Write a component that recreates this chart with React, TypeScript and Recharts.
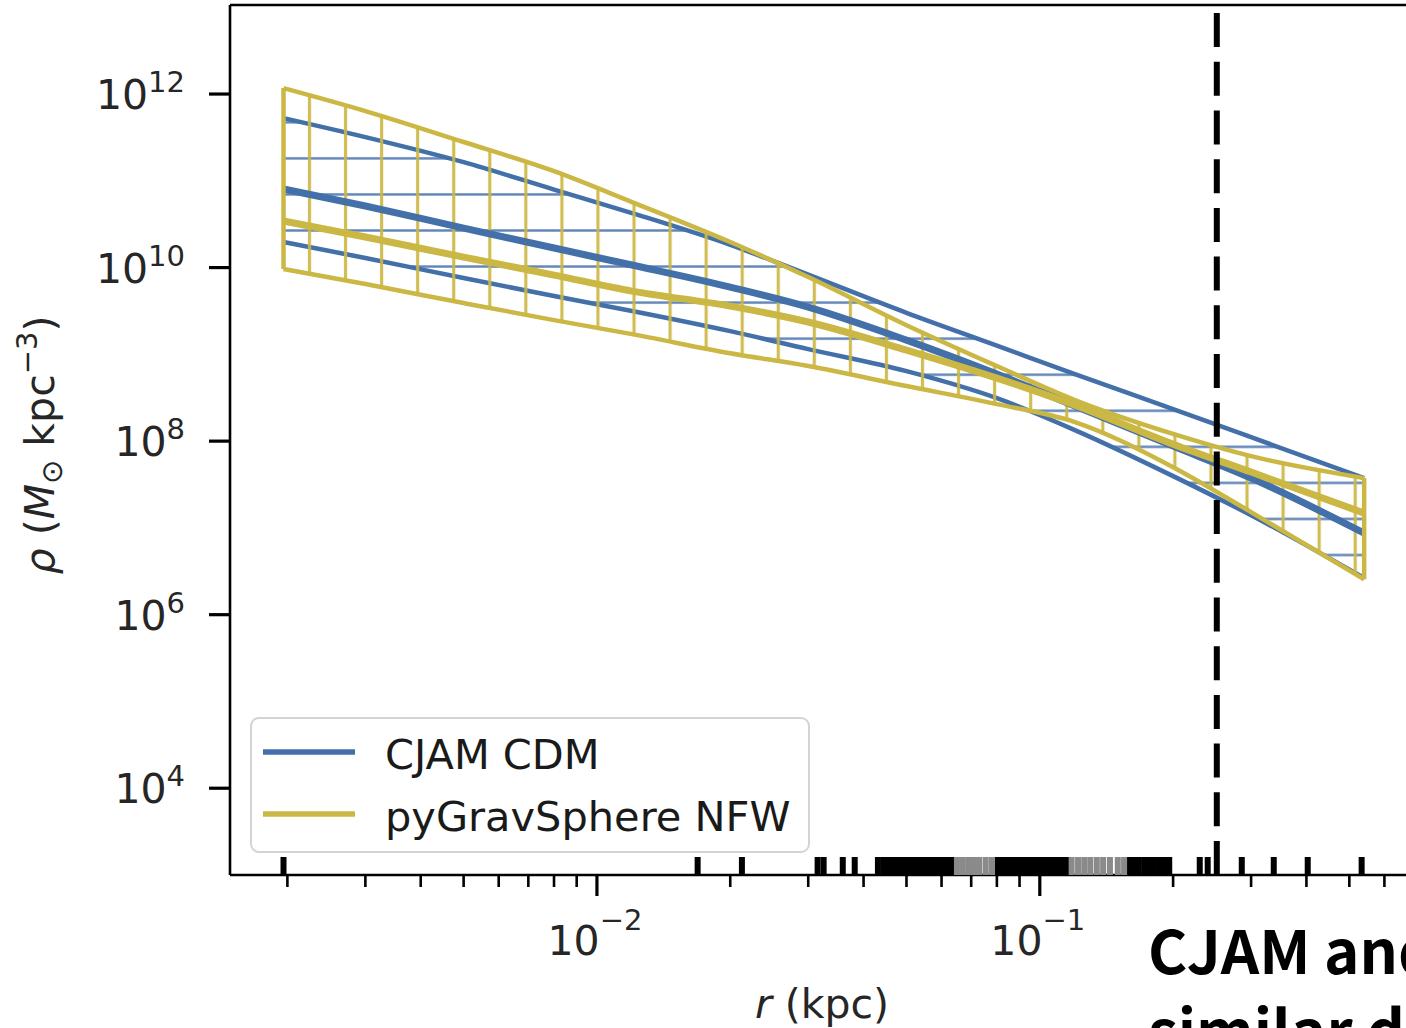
import React from 'react';
import { ComposedChart, Area, Line, XAxis, YAxis, ReferenceLine, Scatter, Legend } from 'recharts';

// ---- data ----
const radii = [0.00196, 0.003, 0.005, 0.008, 0.012, 0.02, 0.03, 0.05, 0.08, 0.12, 0.2, 0.3, 0.54];
const cjamLow = [1.97e10, 1.29e10, 7.57e9, 4.7e9, 3.16e9, 1.85e9, 1.15e9, 6.41e8, 3.13e8, 1.34e8, 3.95e7, 1.4e7, 2.64e6];
const cjamMedian = [8.04e10, 5.12e10, 2.85e10, 1.68e10, 1.07e10, 5.96e9, 3.51e9, 1.46e9, 5.92e8, 2.54e8, 8.77e7, 3.75e7, 8.71e6];
const cjamHigh = [5.28e11, 3.19e11, 1.64e11, 7.93e10, 4.25e10, 1.83e10, 8.28e9, 3.01e9, 1.26e9, 5.92e8, 2.34e8, 1.11e8, 3.75e7];
const gsLow = [9.62e9, 6.46e9, 3.9e9, 2.48e9, 1.71e9, 1.03e9, 7.33e8, 4.31e8, 2.67e8, 1.66e8, 5.01e7, 1.52e7, 2.56e6];
const gsMedian = [3.44e10, 2.25e10, 1.32e10, 8.2e9, 5.36e9, 3.6e9, 2.36e9, 1.12e9, 5.32e8, 2.6e8, 9.23e7, 4.4e7, 1.48e7];
const gsHigh = [1.17e12, 6.37e11, 2.8e11, 1.29e11, 5.69e10, 1.97e10, 7.78e9, 2.17e9, 7.33e8, 2.97e8, 1.21e8, 6.71e7, 3.75e7];

// stellar radii rug (kpc)
const rugDark = [
  0.00196, 0.01688, 0.02125, 0.0315, 0.0325, 0.0359, 0.0382,
  0.0431, 0.0444, 0.0455, 0.0467, 0.0479, 0.0491, 0.0504, 0.0517, 0.053, 0.0544, 0.0558, 0.0572, 0.0587, 0.0602, 0.0618, 0.0634,
  0.08, 0.0822, 0.0845, 0.0868, 0.0892, 0.0916, 0.094, 0.0965, 0.099, 0.1015, 0.104, 0.1068, 0.1095, 0.1122, 0.115,
  0.159, 0.163, 0.167, 0.172, 0.1765, 0.181, 0.186, 0.191, 0.196,
  0.2297, 0.2394, 0.2858, 0.3375, 0.4027, 0.533,
];
const rugLight = [0.065, 0.067, 0.069, 0.071, 0.073, 0.0755, 0.078, 0.118, 0.122, 0.126, 0.13, 0.1345, 0.139, 0.144, 0.15, 0.155];

const halfLightRadius = 0.251;

const xTicks = [0.002, 0.003, 0.004, 0.005, 0.006, 0.007, 0.008, 0.009, 0.01, 0.02, 0.03, 0.04, 0.05, 0.06, 0.07, 0.08, 0.09, 0.1, 0.2, 0.3, 0.4, 0.5, 0.6, 0.7];
const yTicks = [1e4, 1e6, 1e8, 1e10, 1e12];

const seriesNames = ['CJAM CDM', 'pyGravSphere NFW'];
const slideLines = ['CJAM and', 'similar density'];

// ---- styling ----
const BLUE = '#4470aa';
const GOLD = '#cbb743';
const FONT = 'DejaVu Sans';
const X_DOMAIN = [0.001484, 0.7145];
const Y_DOMAIN = [1e3, 1.062e13];
const W = 1430;
const H = 1028;

const rows = radii.map((r, i) => ({
  r,
  cjamBand: [cjamLow[i], cjamHigh[i]],
  cjamMed: cjamMedian[i],
  gsBand: [gsLow[i], gsHigh[i]],
  gsMed: gsMedian[i],
}));
const rugDarkRows = rugDark.map((r) => ({ r, rug: Y_DOMAIN[0] }));
const rugLightRows = rugLight.map((r) => ({ r, rug: Y_DOMAIN[0] }));

const isMajor = (v: number) => Math.abs(Math.log10(v) - Math.round(Math.log10(v))) < 1e-6;
const expLabel = (v: number) => {
  const e = Math.round(Math.log10(v));
  return e < 0 ? '\u2212' + Math.abs(e) : String(e);
};

const XTick = (props: any) => {
  const { x, y, payload } = props;
  const v = payload.value;
  const major = isMajor(v);
  return (
    <g>
      <line x1={x} x2={x} y1={y} y2={y + (major ? 21 : 12)} stroke="#000" strokeWidth={major ? 3.2 : 2.6} />
      {major && (
        <text x={x - 2} y={y + 80} textAnchor="middle" fontFamily={FONT} fontSize={41} fill="#262626">
          <tspan>10</tspan>
          <tspan dy={-25} fontSize={29}>{expLabel(v)}</tspan>
        </text>
      )}
    </g>
  );
};

const YTick = (props: any) => {
  const { x, y, payload } = props;
  const v = payload.value;
  return (
    <g>
      <line x1={x - 21} x2={x} y1={y} y2={y} stroke="#000" strokeWidth={3.2} />
      <text x={x - 45} y={y + 15} textAnchor="end" fontFamily={FONT} fontSize={41} fill="#262626">
        <tspan>10</tspan>
        <tspan dy={-17} fontSize={29}>{expLabel(v)}</tspan>
      </text>
    </g>
  );
};

const RugMark = (props: any) => {
  const { cx, cy, fill } = props;
  return <rect x={cx - 3} y={cy - 18} width={6} height={18} fill={fill} />;
};

const XLabel = (props: any) => {
  const vb = props.viewBox;
  return (
    <text x={vb.x + vb.width / 2 - 2} y={vb.y + 143} textAnchor="middle" fontFamily={FONT} fontSize={41} fill="#262626">
      <tspan fontStyle="italic">r</tspan>
      <tspan> (kpc)</tspan>
    </text>
  );
};

const YLabel = (props: any) => {
  const vb = props.viewBox;
  const cx = vb.x + 54;
  const cy = vb.y + vb.height / 2 + 5;
  return (
    <text x={cx} y={cy} transform={`rotate(-90 ${cx} ${cy})`} textAnchor="middle" fontFamily={FONT} fontSize={41} fill="#262626">
      <tspan fontStyle="italic">{'\u03C1'}</tspan>
      <tspan> (</tspan>
      <tspan fontStyle="italic">M</tspan>
      <tspan dy={8} fontSize={29}>{'\u2299'}</tspan>
      <tspan dy={-8}> kpc</tspan>
      <tspan dy={-17} fontSize={29}>{'\u22123'}</tspan>
      <tspan dy={17}>)</tspan>
    </text>
  );
};

const legendColors = [BLUE, GOLD];
const LegendBox = () => (
  <div
    style={{
      width: 560,
      height: 136,
      boxSizing: 'border-box',
      border: '2.5px solid #d4d4d4',
      borderRadius: 9,
      background: 'rgba(255,255,255,0.85)',
      position: 'relative',
    }}
  >
    <svg width={555} height={131} style={{ position: 'absolute', left: 0, top: 0 }}>
      {seriesNames.map((name, i) => (
        <g key={name}>
          <line x1={11} x2={103} y1={33 + i * 62} y2={33 + i * 62} stroke={legendColors[i]} strokeWidth={5.5} />
          <text x={133} y={50 + i * 62} fontFamily={FONT} fontSize={41.5} fill="#1a1a1a">
            {name}
          </text>
        </g>
      ))}
    </svg>
  </div>
);

export default function App() {
  return (
    <div
      style={{
        position: 'absolute',
        left: 0,
        top: 0,
        width: 1406,
        height: 1028,
        overflow: 'hidden',
        background: '#fff',
      }}
    >
      <ComposedChart width={W} height={H} data={rows} margin={{ top: 5, right: 12, bottom: 93, left: 0 }}>
        <defs>
          <pattern id="hatchBlue" patternUnits="userSpaceOnUse" width={36.06} height={36.06}>
            <line x1={0} x2={36.06} y1={14.06} y2={14.06} stroke={BLUE} strokeWidth={2.4} strokeOpacity={0.85} />
          </pattern>
          <pattern id="hatchGold" patternUnits="userSpaceOnUse" width={36.06} height={36.06}>
            <line x1={21.0} x2={21.0} y1={0} y2={36.06} stroke={GOLD} strokeWidth={3.2} strokeOpacity={0.9} />
          </pattern>
        </defs>
        <XAxis
          dataKey="r"
          type="number"
          scale="log"
          domain={X_DOMAIN}
          allowDataOverflow
          ticks={xTicks}
          interval={0}
          tickSize={0}
          tickMargin={0}
          tickLine={false}
          tick={XTick}
          height={60}
          axisLine={{ stroke: '#000', strokeWidth: 2.6 }}
          label={{ content: XLabel }}
        />
        <YAxis
          type="number"
          scale="log"
          domain={Y_DOMAIN}
          allowDataOverflow
          ticks={yTicks}
          interval={0}
          tickSize={0}
          tickMargin={0}
          tickLine={false}
          tick={YTick}
          width={230}
          axisLine={{ stroke: '#000', strokeWidth: 2.6 }}
          label={{ content: YLabel }}
        />
        <Area
          type="monotoneX"
          dataKey="cjamBand"
          fill="url(#hatchBlue)"
          fillOpacity={1}
          stroke={BLUE}
          strokeWidth={4.5}
          dot={false}
          activeDot={false}
          isAnimationActive={false}
        />
        <Line type="monotoneX" dataKey="cjamMed" stroke={BLUE} strokeWidth={7} dot={false} activeDot={false} isAnimationActive={false} />
        <Area
          type="monotoneX"
          dataKey="gsBand"
          fill="url(#hatchGold)"
          fillOpacity={1}
          stroke={GOLD}
          strokeWidth={4.5}
          dot={false}
          activeDot={false}
          isAnimationActive={false}
        />
        <Line type="monotoneX" dataKey="gsMed" stroke={GOLD} strokeWidth={7} dot={false} activeDot={false} isAnimationActive={false} />
        <ReferenceLine
          segment={[
            { x: radii[0], y: gsLow[0] },
            { x: radii[0], y: gsHigh[0] },
          ]}
          stroke={GOLD}
          strokeWidth={4.5}
          ifOverflow="visible"
        />
        <ReferenceLine
          segment={[
            { x: radii[radii.length - 1], y: gsLow[gsLow.length - 1] },
            { x: radii[radii.length - 1], y: gsHigh[gsHigh.length - 1] },
          ]}
          stroke={GOLD}
          strokeWidth={4.5}
          ifOverflow="visible"
        />
        <Scatter data={rugDarkRows} dataKey="rug" fill="#000" shape={RugMark} isAnimationActive={false} />
        <Scatter data={rugLightRows} dataKey="rug" fill="#8a8a8a" shape={RugMark} isAnimationActive={false} />
        <ReferenceLine
          segment={[
            { x: halfLightRadius, y: Y_DOMAIN[0] },
            { x: halfLightRadius, y: Y_DOMAIN[1] },
          ]}
          stroke="#000"
          strokeWidth={6}
          strokeDasharray="34 14.7"
          ifOverflow="visible"
        />
        <ReferenceLine y={Y_DOMAIN[1]} stroke="#000" strokeWidth={2.6} ifOverflow="visible" />
        <ReferenceLine x={X_DOMAIN[1]} stroke="#000" strokeWidth={2.6} ifOverflow="visible" />
        <Legend
          layout="vertical"
          align="center"
          verticalAlign="middle"
          wrapperStyle={{ left: 250, top: 717, width: 560, height: 136 }}
          content={LegendBox}
        />
      </ComposedChart>
      <div
        style={{
          position: 'absolute',
          left: 1148,
          top: 908,
          fontFamily: '"Noto Sans CJK SC", "Noto Sans", sans-serif',
          fontWeight: 700,
          fontSize: 60,
          lineHeight: '80px',
          color: '#000',
          whiteSpace: 'nowrap',
        }}
      >
        {slideLines.map((t) => (
          <div key={t}>{t}</div>
        ))}
      </div>
    </div>
  );
}
